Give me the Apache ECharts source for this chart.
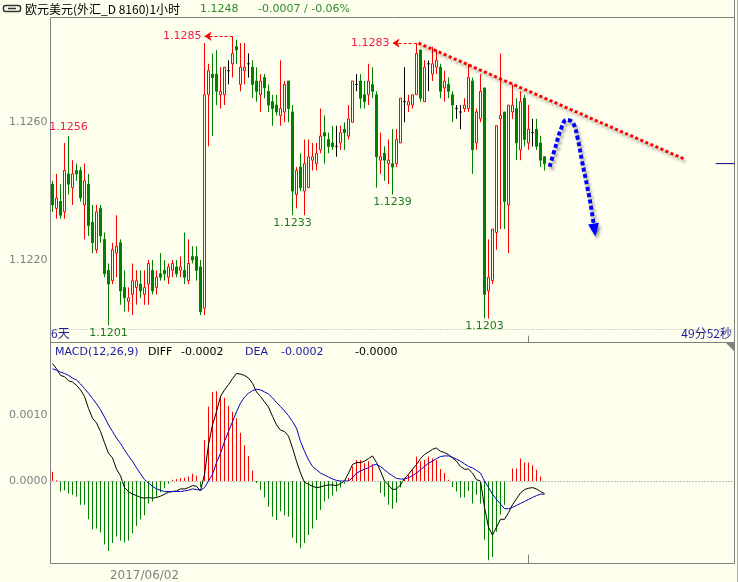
<!DOCTYPE html>
<html>
<head>
<meta charset="utf-8">
<title>欧元美元 1小时</title>
<script src="https://cdn.jsdelivr.net/npm/echarts@6/dist/echarts.min.js"></script>
<style>
  html, body { margin: 0; padding: 0; background: #ffffee; }
  #chart { width: 738px; height: 582px; }
</style>
</head>
<body>
<div id="chart"></div>
<script>
// 1小时K线: [开, 收, 低, 高]
const candles = [
  [1.1242, 1.1236, 1.1234, 1.1243], [1.1235, 1.1238, 1.1232, 1.1245], [1.1237, 1.1233, 1.1232, 1.1242], [1.1234, 1.1246, 1.1232, 1.1254],
  [1.1245, 1.1242, 1.1239, 1.1256], [1.1241, 1.1245, 1.1236, 1.1249], [1.1246, 1.1245, 1.1243, 1.1248], [1.1246, 1.1238, 1.1237, 1.1247],
  [1.1236, 1.1243, 1.1226, 1.1248], [1.1242, 1.1230, 1.1227, 1.1245], [1.1231, 1.1225, 1.1222, 1.1236], [1.1223, 1.1234, 1.1222, 1.1236],
  [1.1235, 1.1227, 1.1225, 1.1236], [1.1226, 1.1216, 1.1215, 1.1228], [1.1217, 1.1213, 1.1201, 1.1219], [1.1214, 1.1223, 1.1213, 1.1225],
  [1.1222, 1.1224, 1.1215, 1.1233], [1.1225, 1.1211, 1.1207, 1.1226], [1.1212, 1.1209, 1.1205, 1.1217], [1.1208, 1.1209, 1.1205, 1.1212],
  [1.1210, 1.1214, 1.1204, 1.1219], [1.1212, 1.1214, 1.1207, 1.1217], [1.1213, 1.1211, 1.1209, 1.1217], [1.1210, 1.1212, 1.1207, 1.1217],
  [1.1213, 1.1219, 1.1207, 1.1220], [1.1217, 1.1211, 1.1210, 1.1220], [1.1212, 1.1215, 1.1210, 1.1217], [1.1216, 1.1215, 1.1214, 1.1222],
  [1.1217, 1.1216, 1.1214, 1.1220], [1.1215, 1.1218, 1.1213, 1.1219], [1.1217, 1.1219, 1.1215, 1.1220], [1.1218, 1.1216, 1.1215, 1.1220],
  [1.1217, 1.1218, 1.1215, 1.1221], [1.1217, 1.1215, 1.1213, 1.1228], [1.1214, 1.1219, 1.1213, 1.1226], [1.1221, 1.1220, 1.1219, 1.1224],
  [1.1221, 1.1217, 1.1214, 1.1224], [1.1218, 1.1205, 1.1204, 1.1220], [1.1206, 1.1268, 1.1204, 1.1283], [1.1268, 1.1275, 1.1253, 1.1277],
  [1.1274, 1.1273, 1.1256, 1.1280], [1.1274, 1.1269, 1.1265, 1.1281], [1.1268, 1.1269, 1.1264, 1.1276], [1.1268, 1.1276, 1.1265, 1.1276],
  [1.1275, 1.1275, 1.1271, 1.1278], [1.1277, 1.1280, 1.1273, 1.1285], [1.1282, 1.1281, 1.1277, 1.1284], [1.1271, 1.1276, 1.1269, 1.1283],
  [1.1275, 1.1276, 1.1271, 1.1283], [1.1277, 1.1277, 1.1273, 1.1280], [1.1276, 1.1271, 1.1267, 1.1278], [1.1272, 1.1269, 1.1266, 1.1276],
  [1.1268, 1.1272, 1.1263, 1.1274], [1.1273, 1.1270, 1.1267, 1.1274], [1.1269, 1.1265, 1.1263, 1.1271], [1.1266, 1.1264, 1.1259, 1.1268],
  [1.1265, 1.1263, 1.1262, 1.1268], [1.1262, 1.1264, 1.1259, 1.1278], [1.1263, 1.1271, 1.1260, 1.1272], [1.1272, 1.1264, 1.1260, 1.1272],
  [1.1263, 1.1240, 1.1233, 1.1265], [1.1239, 1.1246, 1.1235, 1.1247], [1.1247, 1.1241, 1.1240, 1.1251], [1.1240, 1.1248, 1.1233, 1.1255],
  [1.1241, 1.1250, 1.1241, 1.1255], [1.1249, 1.1250, 1.1246, 1.1254], [1.1248, 1.1251, 1.1246, 1.1254], [1.1252, 1.1256, 1.1251, 1.1264],
  [1.1257, 1.1256, 1.1248, 1.1262], [1.1255, 1.1253, 1.1251, 1.1257], [1.1254, 1.1253, 1.1252, 1.1259], [1.1253, 1.1253, 1.1250, 1.1259],
  [1.1254, 1.1257, 1.1252, 1.1259], [1.1258, 1.1257, 1.1252, 1.1260], [1.1256, 1.1261, 1.1255, 1.1265], [1.1260, 1.1272, 1.1260, 1.1272],
  [1.1271, 1.1271, 1.1269, 1.1274], [1.1272, 1.1267, 1.1264, 1.1274], [1.1268, 1.1266, 1.1264, 1.1272], [1.1268, 1.1272, 1.1265, 1.1277],
  [1.1271, 1.1269, 1.1267, 1.1276], [1.1268, 1.1250, 1.1241, 1.1269], [1.1249, 1.1250, 1.1245, 1.1257], [1.1251, 1.1249, 1.1243, 1.1253],
  [1.1248, 1.1249, 1.1242, 1.1255], [1.1248, 1.1247, 1.1239, 1.1258], [1.1248, 1.1255, 1.1247, 1.1258], [1.1254, 1.1267, 1.1254, 1.1267],
  [1.1266, 1.1266, 1.1260, 1.1276], [1.1265, 1.1266, 1.1263, 1.1268], [1.1265, 1.1268, 1.1264, 1.1268], [1.1268, 1.1280, 1.1268, 1.1283],
  [1.1281, 1.1267, 1.1266, 1.1281], [1.1266, 1.1276, 1.1266, 1.1278], [1.1277, 1.1277, 1.1269, 1.1278], [1.1274, 1.1277, 1.1272, 1.1282],
  [1.1276, 1.1278, 1.1274, 1.1281], [1.1276, 1.1269, 1.1267, 1.1277], [1.1270, 1.1272, 1.1266, 1.1275], [1.1271, 1.1269, 1.1267, 1.1273],
  [1.1268, 1.1265, 1.1260, 1.1269], [1.1264, 1.1264, 1.1261, 1.1265], [1.1263, 1.1263, 1.1258, 1.1265], [1.1264, 1.1265, 1.1263, 1.1267],
  [1.1264, 1.1273, 1.1263, 1.1277], [1.1272, 1.1252, 1.1245, 1.1273], [1.1254, 1.1263, 1.1252, 1.1264], [1.1261, 1.1269, 1.1260, 1.1274],
  [1.1270, 1.1210, 1.1203, 1.1270], [1.1211, 1.1215, 1.1203, 1.1226], [1.1214, 1.1229, 1.1213, 1.1229], [1.1228, 1.1259, 1.1223, 1.1259],
  [1.1261, 1.1262, 1.1229, 1.1280], [1.1263, 1.1237, 1.1229, 1.1263], [1.1236, 1.1265, 1.1222, 1.1265], [1.1263, 1.1265, 1.1261, 1.1271],
  [1.1264, 1.1254, 1.1249, 1.1267], [1.1252, 1.1266, 1.1249, 1.1269], [1.1267, 1.1255, 1.1253, 1.1268], [1.1254, 1.1258, 1.1252, 1.1265],
  [1.1257, 1.1257, 1.1253, 1.1261], [1.1258, 1.1253, 1.1252, 1.1261], [1.1254, 1.1249, 1.1247, 1.1256], [1.1250, 1.1248, 1.1246, 1.1250]
];

// MACD(12,26,9) 柱
const macdHist = [
  0.00014, 0.00001, -0.00016, -0.00014, -0.00019, -0.00021, -0.00024, -0.00036, -0.00036, -0.00058,
  -0.00073, -0.00072, -0.00078, -0.00096, -0.00106, -0.00094, -0.00084, -0.00090, -0.00093, -0.00090,
  -0.00079, -0.00068, -0.00058, -0.00052, -0.00034, -0.00031, -0.00024, -0.00017, -0.00011, -0.00004,
  0.00002, 0.00003, 0.00004, 0.00005, 0.00007, 0.00011, 0.00008, -0.00009, 0.00062, 0.00113,
  0.00135, 0.00136, 0.00129, 0.00126, 0.00114, 0.00105, 0.00095, 0.00073, 0.00054, 0.00038,
  0.00016, -0.00003, -0.00014, -0.00025, -0.00039, -0.00054, -0.00059, -0.00046, -0.00052, -0.00054,
  -0.00086, -0.00094, -0.00102, -0.00094, -0.00082, -0.00072, -0.00059, -0.00044, -0.00031, -0.00027,
  -0.00022, -0.00016, -0.00010, -0.00004, 0.00005, 0.00022, 0.00032, 0.00032, 0.00027, 0.00030,
  0.00025, 0, -0.00018, -0.00024, -0.00036, -0.00042, -0.00033, -0.00010, 0.00003, 0.00010,
  0.00017, 0.00037, 0.00030, 0.00032, 0.00037, 0.00034, 0.00032, 0.00018, 0.00012, 0.00002,
  -0.00009, -0.00016, -0.00025, -0.00025, -0.00015, -0.00034, -0.00021, -0.00034, -0.00089, -0.00120,
  -0.00115, -0.00077, -0.00051, -0.00036, 0, 0.00019, 0.00019, 0.00034, 0.00028, 0.00028,
  0.00024, 0.00017, 0.00007, 0
];

// DIFF
const diffLine = [
  0.00178, 0.00170, 0.00160, 0.00158, 0.00152, 0.00150, 0.00145, 0.00138, 0.00128, 0.00110,
  0.00095, 0.00088, 0.00075, 0.00058, 0.00042, 0.00035, 0.00018, 0.00008, -0.00010, -0.00016,
  -0.00020, -0.00022, -0.00025, -0.00026, -0.00025, -0.00026, -0.00025, -0.00023, -0.00020, -0.00017,
  -0.00016, -0.00015, -0.00012, -0.00012, -0.00010, -0.00007, -0.00008, -0.00015, 0.00010, 0.00055,
  0.00085, 0.00105, 0.00128, 0.00138, 0.00146, 0.00155, 0.00163, 0.00162, 0.00160, 0.00156,
  0.00148, 0.00135, 0.00128, 0.00120, 0.00112, 0.00098, 0.00085, 0.00077, 0.00075, 0.00068,
  0.00050, 0.00030, 0.00012, -0.00002, -0.00005, -0.00008, -0.00010, -0.00009, -0.00007, -0.00006,
  -0.00006, -0.00007, -0.00004, 0.00000, 0.00012, 0.00025, 0.00028, 0.00028, 0.00030, 0.00034,
  0.00038, 0.00028, 0.00015, 0.00000, -0.00006, -0.00013, -0.00012, -0.00006, 0.00004, 0.00010,
  0.00018, 0.00025, 0.00034, 0.00040, 0.00044, 0.00048, 0.00050, 0.00045, 0.00043, 0.00040,
  0.00035, 0.00030, 0.00022, 0.00018, 0.00018, 0.00012, 0.00002, 0.00000, -0.00040, -0.00070,
  -0.00082, -0.00070, -0.00058, -0.00058, -0.00048, -0.00036, -0.00027, -0.00018, -0.00013, -0.00011,
  -0.00010, -0.00012, -0.00016, -0.00019
];

// DEA
const deaLine = [
  0.00170, 0.00168, 0.00165, 0.00163, 0.00160, 0.00156, 0.00153, 0.00147, 0.00140, 0.00133,
  0.00125, 0.00117, 0.00108, 0.00097, 0.00085, 0.00075, 0.00065, 0.00057, 0.00047, 0.00038,
  0.00030, 0.00020, 0.00011, 0.00002, -0.00003, -0.00008, -0.00012, -0.00014, -0.00016, -0.00016,
  -0.00016, -0.00016, -0.00016, -0.00015, -0.00014, -0.00012, -0.00013, -0.00014, -0.00010, 0.00000,
  0.00010, 0.00028, 0.00042, 0.00060, 0.00075, 0.00090, 0.00105, 0.00118, 0.00127, 0.00133,
  0.00137, 0.00139, 0.00138, 0.00135, 0.00132, 0.00126, 0.00119, 0.00113, 0.00106, 0.00099,
  0.00090, 0.00080, 0.00060, 0.00045, 0.00032, 0.00022, 0.00017, 0.00012, 0.00009, 0.00006,
  0.00003, 0.00001, 0.00000, 0.00000, 0.00000, 0.00005, 0.00012, 0.00015, 0.00018, 0.00020,
  0.00024, 0.00025, 0.00022, 0.00017, 0.00012, 0.00008, 0.00004, 0.00003, 0.00003, 0.00005,
  0.00008, 0.00012, 0.00017, 0.00022, 0.00027, 0.00030, 0.00034, 0.00037, 0.00038, 0.00038,
  0.00036, 0.00033, 0.00030, 0.00026, 0.00022, 0.00020, 0.00016, 0.00012, 0.00000, -0.00010,
  -0.00020, -0.00028, -0.00035, -0.00042, -0.00042, -0.00040, -0.00037, -0.00034, -0.00031, -0.00028,
  -0.00025, -0.00022, -0.00020, -0.00020
];

const slotCount = 171;                 // 横轴K线位置数, 右侧留白
const dateTicks = [[23, '2017/06/02']];
const timeTick = 119;
const priceGrid = [1.1220, 1.1260];
const macdGrid = [0, 0.0010];

// 高低点标注
const highMarks = [{ i: 4, v: 1.1256 }];
const highArrows = [{ i: 45, to: 38, v: 1.1285 }, { i: 91, to: 85, v: 1.1283 }];
const lowMarks = [{ i: 14, v: 1.1201 }, { i: 60, v: 1.1233 }, { i: 85, v: 1.1239 }, { i: 108, v: 1.1203 }];

// 手绘: 下降趋势线 和 预测走势
const trendLine = [[91.5, 1.1283], [158, 1.12493]];
const forecastPath = [
  [124.3, 1.12471], [125.75, 1.12529], [127.2, 1.12583], [128.5, 1.12607], [130.1, 1.12599],
  [131.3, 1.12553], [132.4, 1.12486], [133.7, 1.12413], [134.7, 1.12350], [135.5, 1.12287]
];
const lastPrice = 1.1248;
const lastPriceSpan = [165.8, 170.5];

const BG = '#ffffee';
const RED = '#ff0000';
const GREEN = '#008000';
const LABEL_RED = '#f0184a';
const LABEL_GREEN = '#1e7b1e';
const NAVY = '#1a1aa0';
const AXIS = '#808080';
const FONT = 'DejaVu Sans';
const CJK = '"Noto Sans CJK SC"';

const priceMin = 1.1196035, priceMax = 1.1290443;
const macdMin = -0.00125, macdMax = 0.0020985;

const cats = Array.from({ length: slotCount }, () => '');
dateTicks.forEach(([i, s]) => { cats[i] = s; });

const dotted = { color: '#a8a8a8', type: [1, 2], width: 1 };
const tickStyle = { color: AXIS, type: 'solid', width: 1 };
const fix4 = v => Number(v).toFixed(4);

function text(x, y, str, fill, font, align) {
  return {
    type: 'text', x: x, y: y, silent: true,
    style: { text: str, fill: fill, font: font, textAlign: align || 'left', textVerticalAlign: 'middle' }
  };
}

const chart = echarts.init(document.getElementById('chart'));

const option = {
  animation: false,
  backgroundColor: BG,
  textStyle: { fontFamily: FONT },
  grid: [
    { left: 50.5, width: 684, top: 17.5, height: 325, show: true, borderColor: AXIS, borderWidth: 1 },
    { left: 50.5, width: 684, top: 342.5, height: 221, show: true, borderColor: AXIS, borderWidth: 1 }
  ],
  xAxis: [
    { type: 'category', gridIndex: 0, data: cats, show: false },
    {
      type: 'category', gridIndex: 1, data: cats,
      axisLine: { show: false }, axisTick: { show: false }, splitLine: { show: false },
      axisLabel: { interval: 0, color: AXIS, fontSize: 12, margin: 6 }
    },
    { type: 'value', gridIndex: 0, min: -0.5, max: slotCount - 0.5, show: false }
  ],
  yAxis: [
    {
      type: 'value', gridIndex: 0, min: priceMin, max: priceMax,
      axisLine: { show: false }, axisTick: { show: false }, splitLine: { show: false },
      axisLabel: { customValues: priceGrid, formatter: fix4, color: AXIS, fontSize: 11, margin: 3 }
    },
    {
      type: 'value', gridIndex: 1, min: macdMin, max: macdMax,
      axisLine: { show: false }, axisTick: { show: false }, splitLine: { show: false },
      axisLabel: { customValues: macdGrid, formatter: fix4, color: AXIS, fontSize: 11, margin: 3 }
    }
  ],
  series: [
    {
      type: 'candlestick',
      xAxisIndex: 0, yAxisIndex: 0,
      data: candles,
      barWidth: 3,
      itemStyle: {
        color: BG, color0: GREEN,
        borderColor: RED, borderColor0: GREEN,
        borderColorDoji: '#000000', borderWidth: 1
      },
      markPoint: {
        silent: true, symbol: 'circle', symbolSize: 0,
        label: { show: true, formatter: p => fix4(p.value), fontSize: 11, fontFamily: FONT },
        data: [
          ...highMarks.map(m => ({ coord: [m.i, m.v], value: m.v, label: { position: 'top', distance: 3, color: LABEL_RED } })),
          ...lowMarks.map(m => ({ coord: [m.i, m.v], value: m.v, label: { position: 'bottom', distance: 2, color: LABEL_GREEN } }))
        ]
      },
      markLine: {
        silent: true, symbol: ['none', 'none'], symbolSize: 7,
        label: { show: false },
        data: [
          ...priceGrid.map(v => ({ yAxis: v, lineStyle: dotted })),
          ...highArrows.map(m => [
            {
              coord: [m.i, m.v], value: m.v,
              lineStyle: { color: RED, type: [3, 2], width: 1 },
              label: { show: true, position: 'end', distance: 3, color: LABEL_RED, fontSize: 11, fontFamily: FONT, formatter: p => fix4(p.value) }
            },
            { coord: [m.to, m.v], value: m.v, symbol: 'arrow' }
          ]),
          [{ coord: [timeTick, priceMin], lineStyle: tickStyle }, { coord: [timeTick, priceMin + 0.0002] }]
        ]
      }
    },
    {
      type: 'line', xAxisIndex: 2, yAxisIndex: 0,
      data: trendLine, symbol: 'none', silent: true,
      lineStyle: {
        color: RED, width: 3, type: [3, 2.5], cap: 'butt',
        shadowColor: 'rgba(0,0,0,0.35)', shadowBlur: 3, shadowOffsetX: 2, shadowOffsetY: 3
      }
    },
    {
      type: 'line', xAxisIndex: 2, yAxisIndex: 0,
      data: forecastPath, smooth: 0.4, silent: true,
      symbol: 'triangle', symbolRotate: 189,
      symbolSize: (v, p) => (p.dataIndex === forecastPath.length - 1 ? [11, 13] : 0),
      itemStyle: { color: '#0000ff', shadowColor: 'rgba(0,0,0,0.35)', shadowBlur: 3, shadowOffsetX: 2, shadowOffsetY: 3 },
      lineStyle: {
        color: '#0000ff', width: 4, type: [4, 2.5], cap: 'butt',
        shadowColor: 'rgba(0,0,0,0.35)', shadowBlur: 3, shadowOffsetX: 2, shadowOffsetY: 3
      }
    },
    {
      type: 'line', xAxisIndex: 2, yAxisIndex: 0,
      data: lastPriceSpan.map(x => [x, lastPrice]), symbol: 'none', silent: true,
      lineStyle: { color: '#000080', width: 1 }
    },
    {
      type: 'bar', xAxisIndex: 1, yAxisIndex: 1,
      data: macdHist, barWidth: 1, silent: true,
      itemStyle: { color: p => (p.value >= 0 ? RED : GREEN) },
      markLine: {
        silent: true, symbol: ['none', 'none'], label: { show: false },
        data: [
          ...macdGrid.map(v => ({ yAxis: v, lineStyle: dotted })),
          [{ coord: [timeTick, macdMin], lineStyle: tickStyle }, { coord: [timeTick, macdMin + 0.000136] }]
        ]
      }
    },
    {
      type: 'line', xAxisIndex: 1, yAxisIndex: 1,
      data: diffLine, symbol: 'none', silent: true,
      lineStyle: { color: '#000000', width: 1 }
    },
    {
      type: 'line', xAxisIndex: 1, yAxisIndex: 1,
      data: deaLine, symbol: 'none', silent: true,
      lineStyle: { color: '#0000c8', width: 1 }
    }
  ],
  graphic: [
    // 标题栏
    { type: 'rect', silent: true, shape: { x: 3.5, y: 5.5, width: 17, height: 6, r: 2 }, style: { fill: 'none', stroke: '#333', lineWidth: 1.5 } },
    { type: 'line', silent: true, shape: { x1: 8, y1: 8.5, x2: 16, y2: 8.5 }, style: { stroke: '#333', lineWidth: 1.5 } },
    text(25, 9.5, '欧元美元(外汇_D 8160)1小时', '#000', '12px ' + CJK),
    text(200, 9.5, '1.1248', '#2e8b2e', '11px "DejaVu Sans"'),
    text(258, 9.5, '-0.0007 / -0.06%', '#2e8b2e', '11px "DejaVu Sans"'),
    { type: 'line', silent: true, shape: { x1: 734.5, y1: 0, x2: 734.5, y2: 18 }, style: { stroke: AXIS, lineWidth: 1 } },
    { type: 'line', silent: true, shape: { x1: 737.5, y1: 0, x2: 737.5, y2: 582 }, style: { stroke: '#b0b0b0', lineWidth: 1 } },
    // 主图底部
    text(51, 333, '6天', NAVY, '12px ' + CJK),
    text(732, 333, '49分52秒', NAVY, '12px ' + CJK, 'right'),
    // MACD 图例
    text(55, 352, 'MACD(12,26,9)', NAVY, '11px "DejaVu Sans"'),
    text(148, 352, 'DIFF', '#000', '11px "DejaVu Sans"'),
    text(181, 352, '-0.0002', '#000', '11px "DejaVu Sans"'),
    text(245, 352, 'DEA', NAVY, '11px "DejaVu Sans"'),
    text(281, 352, '-0.0002', NAVY, '11px "DejaVu Sans"'),
    text(355, 352, '-0.0000', '#000', '11px "DejaVu Sans"'),
    { type: 'polygon', silent: true, shape: { points: [[726, 343], [734, 343], [734, 351]] }, style: { fill: AXIS } }
  ]
};

chart.setOption(option);
</script>
</body>
</html>
